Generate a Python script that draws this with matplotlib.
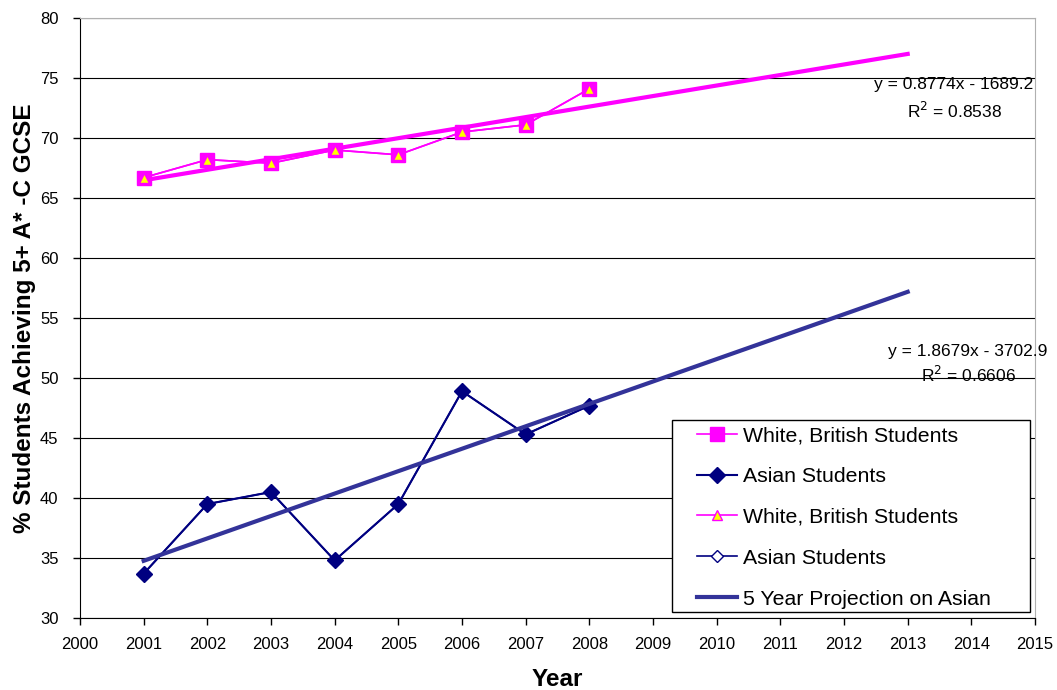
import matplotlib.pyplot as plt
from matplotlib.patches import Rectangle

plt.rcParams["font.family"] = ["Liberation Sans", "DejaVu Sans"]

years = [2001, 2002, 2003, 2004, 2005, 2006, 2007, 2008]
white_british = [66.7, 68.2, 67.9, 69.0, 68.6, 70.5, 71.1, 74.1]
asian = [33.7, 39.5, 40.5, 34.8, 39.5, 48.9, 45.3, 47.7]

# linear trendlines as printed on the chart, drawn 2001 -> 2013
trend_years = [2001, 2013]
white_slope, white_intercept, white_r2 = 0.8774, -1689.2, 0.8538
asian_slope, asian_intercept, asian_r2 = 1.8679, -3702.9, 0.6606

white_trend = [white_slope * x + white_intercept for x in trend_years]
asian_trend = [asian_slope * x + asian_intercept for x in trend_years]

fig = plt.figure(figsize=(10.57, 6.9), dpi=100)
ax = fig.add_axes([0.0757, 0.1043, 0.9035, 0.8696])

ax.plot(years, white_british, color="#FF00FF", lw=1.2, marker="s", ms=10,
        mfc="#FF00FF", mec="#FF00FF", label="White, British Students", zorder=3)
ax.plot(years, asian, color="#000080", lw=1.5, marker="D", ms=8,
        mfc="#000080", mec="#000080", label="Asian Students", zorder=3)
ax.plot(years, white_british, color="#FF00FF", lw=1.2, marker="^", ms=7,
        mfc="#FFFF00", mec="#FF00FF", label="White, British Students", zorder=4)
ax.plot(years, asian, color="#000080", lw=1.2, marker="D", ms=6,
        mfc="white", mec="#000080", label="Asian Students", zorder=2)
ax.plot(trend_years, white_trend, color="#FF00FF", lw=3, zorder=3)
ax.plot(trend_years, asian_trend, color="#333399", lw=3,
        label="5 Year Projection on Asian", zorder=3)

ax.text(2014.97, 74.42, "y = %.4fx - %.1f" % (white_slope, -white_intercept),
        ha="right", va="center", fontsize=12.5)
ax.text(2013.73, 72.27, "R$^2$ = %.4f" % white_r2, ha="center", va="center",
        fontsize=12.5)
ax.text(2015.2, 52.17, "y = %.4fx - %.1f" % (asian_slope, -asian_intercept),
        ha="right", va="center", fontsize=12.5, clip_on=False)
ax.text(2013.96, 50.25, "R$^2$ = %.4f" % asian_r2, ha="center", va="center",
        fontsize=12.5)

ax.set_xlim(2000, 2015)
ax.set_ylim(30, 80)
ax.set_xticks(range(2000, 2016))
ax.set_yticks(range(30, 81, 5))
ax.tick_params(labelsize=12, direction="out", length=5, width=1)
ax.tick_params(axis="x", pad=8.5)
ax.tick_params(axis="y", pad=10.5)
ax.yaxis.grid(True, color="black", lw=0.8)
ax.set_axisbelow(True)
for side in ["top", "right"]:
    ax.spines[side].set_color("#B0B0B0")
for side in ["left", "bottom"]:
    ax.spines[side].set_color("black")

ax.set_xlabel("Year", fontsize=17.5, fontweight="bold", labelpad=12)
ax.set_ylabel("% Students Achieving 5+ A* -C GCSE", fontsize=17.5,
              fontweight="bold", labelpad=3)

# Excel style legend: box drawn separately, entries inset from its left edge
ax.add_patch(Rectangle((0.6199, 0.01), 0.3749, 0.32, transform=ax.transAxes,
                       facecolor="white", edgecolor="black", lw=1,
                       zorder=4.9))
leg = ax.legend(loc="lower left", bbox_to_anchor=(0.64, 0.0067),
                fontsize=15.3, frameon=False, handlelength=1.9,
                labelspacing=1.03, borderpad=0.25, handletextpad=0.3,
                borderaxespad=0)

plt.savefig("out.png", dpi=100)
plt.close()
